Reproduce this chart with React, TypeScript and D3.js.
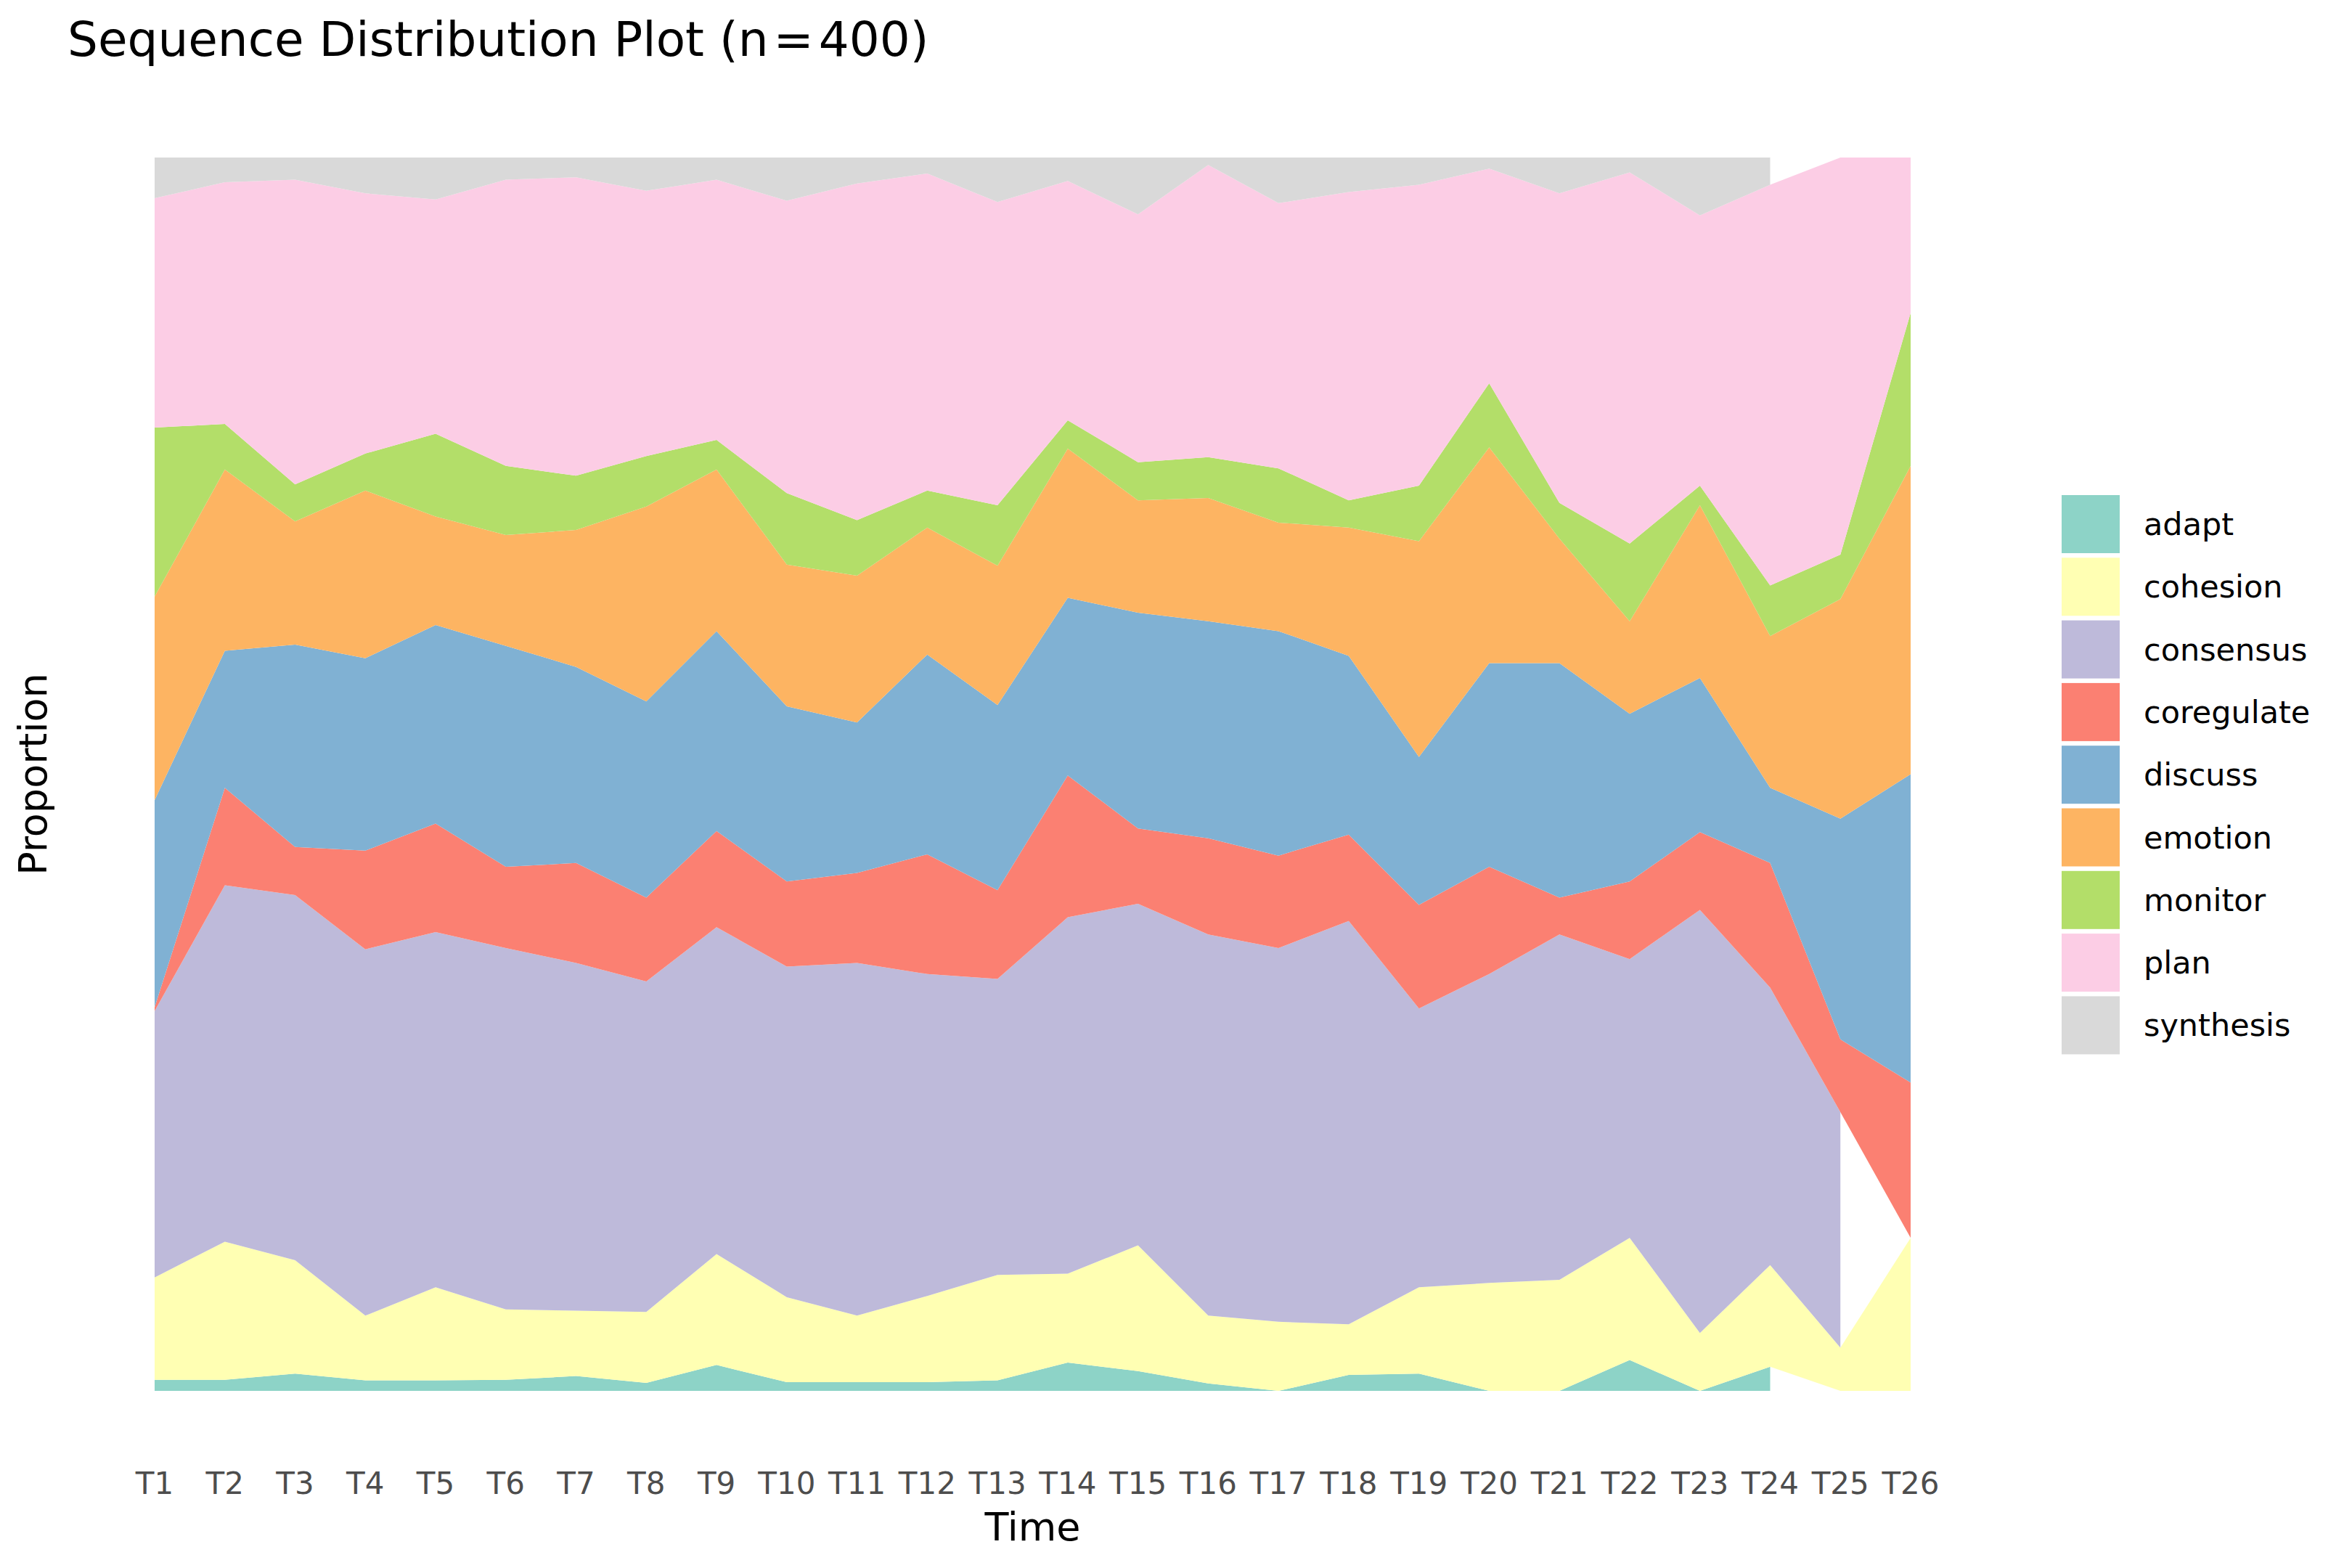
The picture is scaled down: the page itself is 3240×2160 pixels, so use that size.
import React from "react";
import * as d3 from "d3";

const timeLabels = ["T1","T2","T3","T4","T5","T6","T7","T8","T9","T10","T11","T12","T13","T14","T15","T16","T17","T18","T19","T20","T21","T22","T23","T24","T25","T26"];

const categories = ["adapt","cohesion","consensus","coregulate","discuss","emotion","monitor","plan","synthesis"];
const palette = ["#8DD3C7","#FFFFB3","#BEBADA","#FB8072","#80B1D3","#FDB462","#B3DE69","#FCCDE5","#D9D9D9"];

const adapt = [0.009,0.009,0.014,0.0085,0.0085,0.009,0.012,0.0065,0.021,0.007,0.007,0.007,0.0085,0.023,0.016,0.006,0,0.013,0.014,0,0,0.025,0,0.0196,null,null];
const cohesion = [0.083,0.112,0.092,0.0525,0.0755,0.057,0.053,0.0575,0.090,0.069,0.054,0.070,0.0855,0.072,0.102,0.055,0.056,0.041,0.070,0.0875,0.090,0.099,0.047,0.0824,0.035,0.124];
const consensus = [0.216,0.289,0.296,0.297,0.288,0.293,0.282,0.268,0.265,0.268,0.286,0.261,0.240,0.289,0.277,0.309,0.303,0.327,0.226,0.2505,0.280,0.226,0.343,0.225,0.191,null];
const coregulate = [0.003,0.079,0.039,0.080,0.088,0.066,0.081,0.068,0.078,0.069,0.073,0.097,0.072,0.115,0.061,0.078,0.075,0.070,0.084,0.087,0.030,0.063,0.063,0.101,0.059,0.126];
const discuss = [0.168,0.111,0.164,0.156,0.161,0.179,0.159,0.159,0.162,0.142,0.122,0.162,0.150,0.144,0.175,0.176,0.182,0.145,0.120,0.165,0.190,0.136,0.125,0.061,0.179,0.250];
const emotion = [0.165,0.147,0.100,0.136,0.088,0.090,0.111,0.158,0.131,0.115,0.119,0.103,0.113,0.121,0.091,0.100,0.088,0.104,0.175,0.175,0.101,0.075,0.140,0.123,0.178,0.250];
const monitor = [0.137,0.037,0.030,0.030,0.067,0.056,0.044,0.041,0.024,0.058,0.045,0.030,0.049,0.023,0.031,0.033,0.044,0.022,0.045,0.052,0.029,0.063,0.016,0.041,0.036,0.124];
const plan = [0.186,0.196,0.247,0.211,0.190,0.232,0.242,0.215,0.211,0.237,0.273,0.257,0.246,0.194,0.201,0.237,0.215,0.250,0.244,0.174,0.251,0.301,0.219,0.325,0.322,0.126];
const synthesis = [0.033,0.020,0.018,0.029,0.034,0.018,0.016,0.027,0.018,0.035,0.021,0.013,0.036,0.019,0.046,0.006,0.037,0.028,0.022,0.009,0.029,0.012,0.047,0.022,null,null];

const seriesValues: (number | null)[][] = [adapt, cohesion, consensus, coregulate, discuss, emotion, monitor, plan, synthesis];

const FONT = "'DejaVu Sans', sans-serif";

type Pt = { i: number; y0: number; y1: number; def: boolean };

export default function App() {
  const W = 3240, H = 2160;
  const left = 213, right = 2632, top = 217, bottom = 1916;

  const x = d3.scalePoint<string>().domain(timeLabels).range([left, right]);
  const y = d3.scaleLinear().domain([0, 1]).range([bottom, top]);

  const totals = timeLabels.map((_, i) => d3.sum(seriesValues, (s) => (s[i] ?? 0)));
  let base = timeLabels.map(() => 0);
  const layers: Pt[][] = seriesValues.map((s) => {
    const pts = s.map((v, i) => {
      const y0 = base[i];
      const y1 = y0 + (v ?? 0) / totals[i];
      return { i, y0, y1, def: v != null };
    });
    base = pts.map((p) => p.y1);
    return pts;
  });

  const area = d3
    .area<Pt>()
    .defined((p) => p.def)
    .x((p) => x(timeLabels[p.i]) as number)
    .y0((p) => y(p.y0))
    .y1((p) => y(p.y1));

  const legendX = 2840, legendY0 = 682, keyW = 80, keyH = 80, pitch = 86.3;

  return (
    <svg width={W} height={H} viewBox={`0 0 ${W} ${H}`} style={{ position: "absolute", left: 0, top: 0, background: "#fff" }}>
      <rect x={0} y={0} width={W} height={H} fill="#fff" />
      <text x={93} y={77} fontFamily={FONT} fontSize={66} fill="#000">
        Sequence Distribution Plot (n<tspan dx={7}>=</tspan><tspan dx={7}>400)</tspan>
      </text>

      <g>
        {layers.map((pts, k) => (
          <path key={categories[k]} d={area(pts) || ""} fill={palette[k]} />
        ))}
      </g>

      <g>
        {timeLabels.map((t) => (
          <text key={t} x={x(t)} y={2058} textAnchor="middle" fontFamily={FONT} fontSize={42} fill="#4D4D4D">{t}</text>
        ))}
      </g>

      <text x={(left + right) / 2} y={2122} textAnchor="middle" fontFamily={FONT} fontSize={54} fill="#000">Time</text>
      <text transform={`translate(64, ${(top + bottom) / 2}) rotate(-90)`} textAnchor="middle" fontFamily={FONT} fontSize={54} fill="#000">Proportion</text>

      <g>
        {categories.map((c, k) => (
          <g key={c} transform={`translate(${legendX}, ${legendY0 + k * pitch})`}>
            <rect x={0} y={0} width={keyW} height={keyH} fill={palette[k]} />
            <text x={113} y={keyH / 2} dominantBaseline="central" fontFamily={FONT} fontSize={43} fill="#000">{c}</text>
          </g>
        ))}
      </g>
    </svg>
  );
}
